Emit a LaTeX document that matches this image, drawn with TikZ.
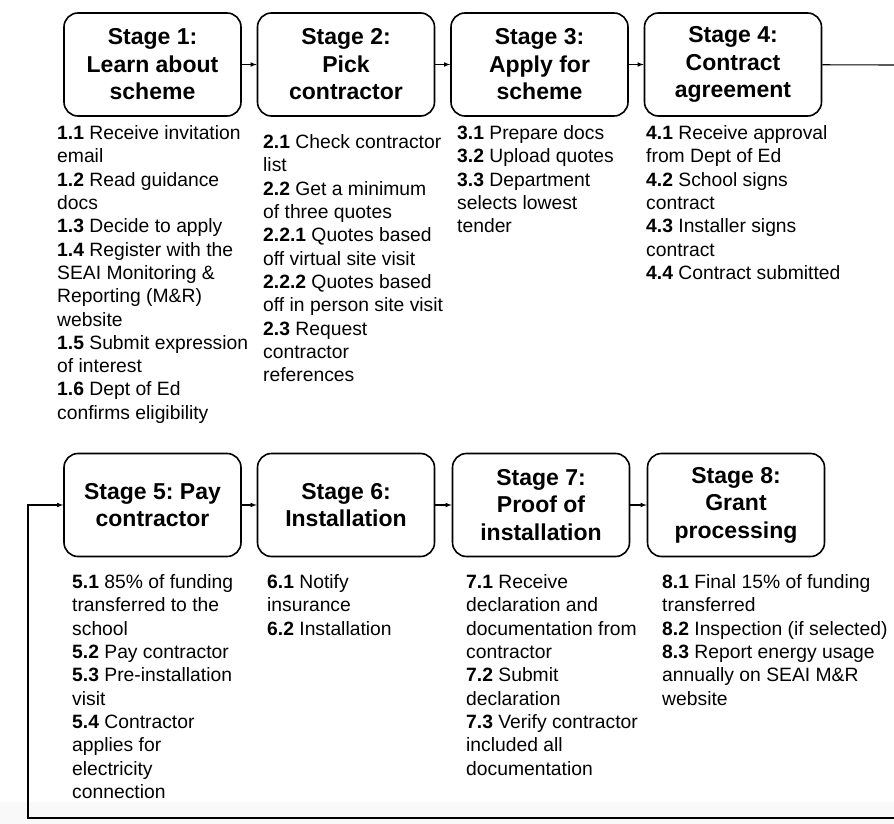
\documentclass[tikz,border=0pt]{standalone}
\usepackage{fontspec}
\setmainfont{Liberation Sans}
\usepackage{tikz}
\frenchspacing

\begin{document}
\begin{tikzpicture}[x=1pt, y=-1pt]
 \tikzstyle{stage}=[draw, rounded corners=14pt, line width=1.6pt, minimum width=177pt, minimum height=103pt, align=center, inner sep=0pt, font=\fontsize{23}{27.5}\selectfont\bfseries]
 \tikzstyle{steps}=[anchor=north west, align=left, inner sep=0pt, font=\fontsize{19.3}{23.3}\selectfont]
 \tikzstyle{flow}=[->, >=latex, line width=1.1pt]
 \useasboundingbox (0, 0) rectangle (894, 824);
 \fill[gray!5] (0, 802) rectangle (894, 824);
 %
 \node[stage] (S1) at (152.5, 64.5) {Stage 1:\\Learn about\\scheme};
 \node[stage] (S2) at (346, 64.5) {Stage 2:\\Pick\\contractor};
 \node[stage] (S3) at (539.5, 64.5) {Stage 3:\\Apply for\\scheme};
 \node[stage] (S4) at (733, 64.5) {Stage 4:\\Contract\\agreement};
 %
 \node[stage] (S5) at (152.5, 505) {Stage 5: Pay\\contractor};
 \node[stage] (S6) at (346, 505) {Stage 6:\\Installation};
 \node[stage] (S7) at (541, 505) {Stage 7:\\Proof of\\installation};
 \node[stage] (S8) at (736, 505) {Stage 8:\\Grant\\processing};
 %
 \node[steps] (L1) at (57, 125.5) {\textbf{1.1} Receive invitation\\email\\\textbf{1.2} Read guidance\\docs\\\textbf{1.3} Decide to apply\\\textbf{1.4} Register with the\\SEAI Monitoring \&\\Reporting (M\&R)\\website\\\textbf{1.5} Submit expression\\of interest\\\textbf{1.6} Dept of Ed\\confirms eligibility};
 \node[steps] (L2) at (263, 134.5) {\textbf{2.1} Check contractor\\list\\\textbf{2.2} Get a minimum\\of three quotes\\\textbf{2.2.1} Quotes based\\off virtual site visit\\\textbf{2.2.2} Quotes based\\off in person site visit\\\textbf{2.3} Request\\contractor\\references};
 \node[steps] (L3) at (457, 125.5) {\textbf{3.1} Prepare docs\\\textbf{3.2} Upload quotes\\\textbf{3.3} Department\\selects lowest\\tender};
 \node[steps] (L4) at (646, 125.5) {\textbf{4.1} Receive approval\\from Dept of Ed\\\textbf{4.2} School signs\\contract\\\textbf{4.3} Installer signs\\contract\\\textbf{4.4} Contract submitted};
 %
 \node[steps] (L5) at (72, 574.5) {\textbf{5.1} 85\% of funding\\transferred to the\\school\\\textbf{5.2} Pay contractor\\\textbf{5.3} Pre-installation\\visit\\\textbf{5.4} Contractor\\applies for\\electricity\\connection};
 \node[steps] (L6) at (267, 574.5) {\textbf{6.1} Notify\\insurance\\\textbf{6.2} Installation};
 \node[steps] (L7) at (466, 574.5) {\textbf{7.1} Receive\\declaration and\\documentation from\\contractor\\\textbf{7.2} Submit\\declaration\\\textbf{7.3} Verify contractor\\included all\\documentation};
 \node[steps] (L8) at (662, 574.5) {\textbf{8.1} Final 15\% of funding\\transferred\\\textbf{8.2} Inspection (if selected)\\\textbf{8.3} Report energy usage\\annually on SEAI M\&R\\website};
 %
 \coordinate (R4) at (894, 65);
 \coordinate (BR) at (894, 818);
 \coordinate (BL) at (28, 818);
 %%
 \draw[flow] (S1)--(S2);
 \draw[flow] (S2)--(S3);
 \draw[flow] (S3)--(S4);
 \draw[line width=1.1pt] (S4)--(R4);
 \draw[flow] (BR)--(BL)|-(S5);
 \draw[flow] (S5)--(S6);
 \draw[flow] (S6)--(S7);
 \draw[flow] (S7)--(S8);
\end{tikzpicture}
\end{document}
